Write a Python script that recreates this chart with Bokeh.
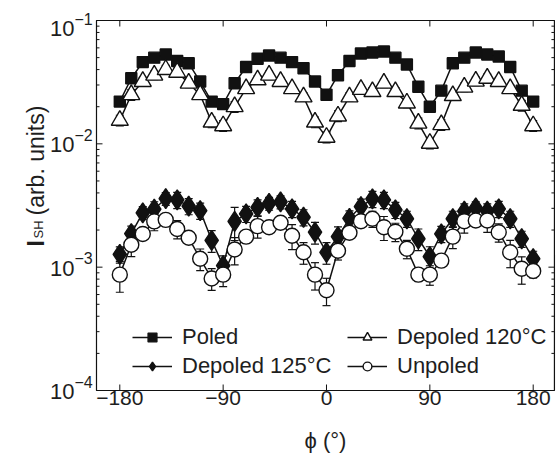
import math
from bokeh.plotting import figure
from bokeh.models import Range1d, Legend, LegendItem
from bokeh.core.properties import value
from bokeh.embed import file_html
from bokeh.resources import INLINE

# ---------------- data ----------------
phi = [-180, -170, -160, -150, -140, -130, -120, -110, -100, -90,
       -80, -70, -60, -50, -40, -30, -20, -10, 0, 10,
       20, 30, 40, 50, 60, 70, 80, 90, 100, 110,
       120, 130, 140, 150, 160, 170, 180]

poled = [0.022, 0.034, 0.046, 0.050, 0.053, 0.047, 0.045, 0.032, 0.022, 0.021,
         0.031, 0.042, 0.049, 0.052, 0.050, 0.046, 0.041, 0.032, 0.025, 0.036,
         0.047, 0.054, 0.055, 0.056, 0.050, 0.044, 0.029, 0.020, 0.027, 0.045,
         0.050, 0.055, 0.053, 0.051, 0.042, 0.027, 0.022]

depoled120 = [0.0155, 0.025, 0.032, 0.036, 0.040, 0.038, 0.031, 0.025, 0.015, 0.014,
              0.020, 0.028, 0.033, 0.036, 0.032, 0.028, 0.024, 0.015, 0.0113, 0.0168,
              0.024, 0.0276, 0.0265, 0.031, 0.0265, 0.0214, 0.0147, 0.0101, 0.0143, 0.0246,
              0.0288, 0.0322, 0.034, 0.032, 0.028, 0.0205, 0.014]

depoled125 = [0.00127, 0.00187, 0.00276, 0.00295, 0.0036, 0.00351, 0.00313, 0.00287, 0.00165, 0.00103,
              0.00235, 0.00271, 0.00306, 0.00329, 0.00338, 0.00297, 0.00254, 0.00192, 0.00132, 0.00177,
              0.00249, 0.0031, 0.00358, 0.00351, 0.00292, 0.00247, 0.0017, 0.00122, 0.00186, 0.00247,
              0.00284, 0.00302, 0.00284, 0.00297, 0.00247, 0.0017, 0.00117]

unpoled = [0.00087, 0.00152, 0.00186, 0.00235, 0.00242, 0.00204, 0.00173, 0.00117, 0.00081, 0.00087,
           0.00139, 0.00177, 0.00215, 0.00211, 0.00229, 0.0018, 0.00132, 0.00087, 0.00065, 0.00136,
           0.0019, 0.00236, 0.00247, 0.00211, 0.00194, 0.00141, 0.00087, 0.00087, 0.00113, 0.00177,
           0.00236, 0.00239, 0.00239, 0.00192, 0.00132, 0.00097, 0.00093]

# relative error bars (fraction of value)
err120 = [0.10, 0.10, 0.08, 0.08, 0.08, 0.08, 0.08, 0.08, 0.10, 0.10,
          0.10, 0.08, 0.08, 0.08, 0.08, 0.08, 0.08, 0.10, 0.10, 0.10,
          0.08, 0.08, 0.08, 0.08, 0.08, 0.08, 0.10, 0.10, 0.10, 0.08,
          0.08, 0.08, 0.08, 0.08, 0.08, 0.10, 0.10]

err125 = [0.15, 0.15, 0.12, 0.15, 0.12, 0.15, 0.15, 0.15, 0.20, 0.20,
          0.30, 0.15, 0.15, 0.12, 0.12, 0.15, 0.15, 0.20, 0.20, 0.20,
          0.15, 0.15, 0.15, 0.15, 0.15, 0.15, 0.20, 0.20, 0.15, 0.15,
          0.15, 0.12, 0.15, 0.15, 0.15, 0.15, 0.15]

errU = [0.28, 0.20, 0.08, 0.16, 0.10, 0.17, 0.10, 0.20, 0.20, 0.20,
        0.25, 0.12, 0.20, 0.10, 0.10, 0.23, 0.20, 0.25, 0.25, 0.16,
        0.08, 0.08, 0.15, 0.22, 0.17, 0.17, 0.12, 0.18, 0.10, 0.20,
        0.20, 0.10, 0.20, 0.17, 0.25, 0.25, 0.12]

x_ticks = [-180, -90, 0, 90, 180]
x_tick_labels = ["\u2212180", "\u221290", "0", "90", "180"]
y_ticks = [1e-4, 1e-3, 1e-2, 1e-1]
y_exps = ["\u22124", "\u22123", "\u22122", "\u22121"]
x_title = "\u03d5 (\u00b0)"

series_names = ["Poled", "Depoled 120\u00b0C", "Depoled 125\u00b0C", "Unpoled"]

# ---------------- figure ----------------
FONT = "Liberation Sans"
INK = "#111111"
TXT = "#1e1e1e"
X0, X1 = -200.3, 198.5          # plot box edges (data)
Y0, Y1 = 1e-4, 1e-1
XL, XR = -283.9, 200.3          # full canvas extent in x
YB, YT = 10 ** -4.527, 10 ** -0.8378   # full canvas extent in y

p = figure(width=556, height=455, output_backend="svg", toolbar_location=None,
           x_range=Range1d(XL, XR), y_range=Range1d(YB, YT), y_axis_type="log",
           min_border=0, min_border_left=0, min_border_right=0, min_border_top=0,
           min_border_bottom=0)
p.grid.visible = False
p.xaxis.visible = False
p.yaxis.visible = False
p.outline_line_color = None
p.background_fill_color = "white"
p.border_fill_color = "white"

# plot box
p.quad(left=[X0], right=[X1], bottom=[Y0], top=[Y1], fill_color=None,
       line_color=INK, line_width=1.2)

# inward ticks on all four edges of the box
minor_y = [m * t for t in y_ticks[:-1] for m in range(2, 10)]
p.ray(x=x_ticks, y=[Y1] * len(x_ticks), length=6, length_units="screen",
      angle=-math.pi / 2, line_color=INK, line_width=1)
p.ray(x=x_ticks, y=[Y0] * len(x_ticks), length=6, length_units="screen",
      angle=math.pi / 2, line_color=INK, line_width=1)
p.ray(x=[X0] * len(y_ticks), y=y_ticks, length=6, length_units="screen",
      angle=0, line_color=INK, line_width=1)
p.ray(x=[X1] * len(y_ticks), y=y_ticks, length=6, length_units="screen",
      angle=math.pi, line_color=INK, line_width=1)
p.ray(x=[X0] * len(minor_y), y=minor_y, length=3, length_units="screen",
      angle=0, line_color=INK, line_width=1)
p.ray(x=[X1] * len(minor_y), y=minor_y, length=3, length_units="screen",
      angle=math.pi, line_color=INK, line_width=1)

# x tick labels and x title
p.text(x=x_ticks, y=[Y0] * len(x_ticks), text=x_tick_labels, y_offset=0,
       text_align="center", text_baseline="top",
       text_font=value(FONT), text_font_size="21px", text_color=TXT)
p.text(x=[(X0 + X1) / 2], y=[Y0], text=[x_title], y_offset=50,
       text_align="center", text_baseline="alphabetic",
       text_font=value(FONT), text_font_size="22px", text_color=TXT)

# y tick labels 10^n  (offsets in screen px, +y = down)
base_dy = [8 if t == y_ticks[-1] else 1 for t in y_ticks]
sup_dy = [d - 10 for d in base_dy]
p.text(x=[X0] * len(y_ticks), y=y_ticks, text=["10"] * len(y_ticks),
       x_offset=-22, y_offset=base_dy, text_align="right", text_baseline="middle",
       text_font=value(FONT), text_font_size="22px", text_color=TXT)
p.text(x=[X0] * len(y_ticks), y=y_ticks, text=y_exps,
       x_offset=-22, y_offset=sup_dy, text_align="left", text_baseline="middle",
       text_font=value(FONT), text_font_size="16px", text_color=TXT)

# y axis title: I_SH (arb. units), rotated
ymid = 10 ** -2.5
p.text(x=[X0], y=[ymid], text=["I"], x_offset=-60, y_offset=41, angle=math.pi / 2,
       text_align="left", text_baseline="alphabetic", text_font_style="bold",
       text_font=value(FONT), text_font_size="23px", text_color=TXT)
p.text(x=[X0], y=[ymid], text=["SH"], x_offset=-58, y_offset=33, angle=math.pi / 2,
       text_align="left", text_baseline="alphabetic",
       text_font=value(FONT), text_font_size="13px", text_color=TXT)
p.text(x=[X0], y=[ymid], text=["(arb. units)"], x_offset=-60, y_offset=10, angle=math.pi / 2,
       text_align="left", text_baseline="alphabetic",
       text_font=value(FONT), text_font_size="23px", text_color=TXT)


# error bars (behind markers)
def errbars(ys, errs):
    lo = [y * (1 - e) for y, e in zip(ys, errs)]
    hi = [y * (1 + e) for y, e in zip(ys, errs)]
    p.segment(x0=phi, y0=lo, x1=phi, y1=hi, line_color=INK, line_width=1.2)
    p.scatter(phi, lo, marker="dash", size=8, line_color=INK, line_width=1.2)
    p.scatter(phi, hi, marker="dash", size=8, line_color=INK, line_width=1.2)


errbars(depoled120, err120)
errbars(depoled125, err125)
errbars(unpoled, errU)

specs = [
    (poled, "square", 11, INK),
    (depoled120, "triangle", 17, "white"),
    (depoled125, "diamond", 20, INK),
    (unpoled, "circle", 15, "white"),
]
renderers = []
for ys, mk, sz, fc in specs:
    ln = p.line(phi, ys, line_color=INK, line_width=1.5)
    renderers.append([ln])
for (ys, mk, sz, fc), rl in zip(specs, renderers):
    sc = p.scatter(phi, ys, marker=mk, size=sz, fill_color=fc, line_color=INK, line_width=1.4)
    rl.append(sc)

items = [LegendItem(label=name, renderers=rl) for name, rl in zip(series_names, renderers)]

legend = Legend(items=items, location=(132, 76), ncols=2, orientation="horizontal",
                glyph_width=40, glyph_height=22, label_standoff=10, label_width=162,
                spacing=3, padding=0, margin=0, border_line_alpha=0,
                background_fill_alpha=0, label_text_font=FONT,
                label_text_font_size="22px", label_text_color=TXT)
p.add_layout(legend)

open("out.html", "w").write(file_html(p, INLINE))
